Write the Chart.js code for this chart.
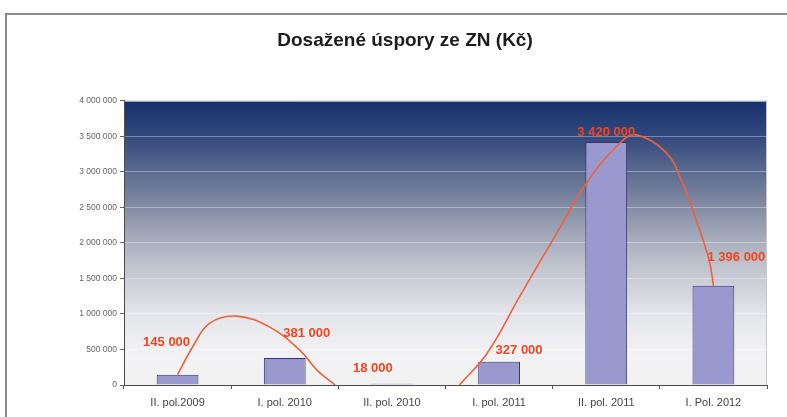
<!DOCTYPE html>
<html>
<head>
<meta charset="utf-8">
<script src="https://cdn.jsdelivr.net/npm/chart.js@4/dist/chart.umd.min.js"></script>
<style>
  html, body { margin: 0; padding: 0; background: #ffffff; }
  #wrap { position: relative; width: 787px; height: 417px; overflow: hidden; }
  #frame { position: absolute; left: 5px; top: 13px; width: 800px; height: 420px;
           border-left: 2px solid #8a8a8a; border-top: 2px solid #8a8a8a; pointer-events: none; }
  canvas { position: absolute; left: 0; top: 0; }
</style>
</head>
<body>
<div id="wrap">
  <canvas id="c" width="787" height="417"></canvas>
  <div id="frame"></div>
</div>
<script>
// ---- data ----
const categories = ['II. pol.2009', 'I. pol. 2010', 'II. pol. 2010', 'I. pol. 2011', 'II. pol. 2011', 'I. Pol. 2012'];
const savings = [145000, 381000, 18000, 327000, 3420000, 1396000];
const valueLabels = ['145 000', '381 000', '18 000', '327 000', '3 420 000', '1 396 000'];
const yTicks = [0, 500000, 1000000, 1500000, 2000000, 2500000, 3000000, 3500000, 4000000];
// red free-hand curve (x in category index units)
const curveX = [0, 0.14, 0.30, 0.55, 0.86, 1.14, 1.30, 1.47, 2.0, 2.63, 2.89, 3.19, 3.50, 3.82, 4.13, 4.28, 4.56, 4.71, 4.84, 4.96, 5.0];
const curveY = [145000, 535000, 870000, 970000, 815000, 490000, 210000, 0, null, 0, 450000, 1240000, 2040000, 2850000, 3410000, 3520000, 3270000, 2850000, 2320000, 1760000, 1396000];

function fmt(v) { return String(v).replace(/\B(?=(\d{3})+(?!\d))/g, ' '); }

const curvePoints = curveX.map((x, i) => ({ x: x, y: curveY[i] }));

const bgPlugin = {
  id: 'bg',
  beforeDraw(chart) {
    const { ctx, chartArea: a } = chart;
    const g = ctx.createLinearGradient(0, a.top, 0, a.bottom);
    g.addColorStop(0, '#15306b');
    g.addColorStop(0.12, '#31487c');
    g.addColorStop(0.35, '#7c869f');
    g.addColorStop(0.55, '#b9bdc8');
    g.addColorStop(0.75, '#e4e5ea');
    g.addColorStop(0.9, '#f3f3f5');
    g.addColorStop(1, '#f1f1f1');
    ctx.save();
    ctx.fillStyle = g;
    ctx.fillRect(a.left, a.top, a.right - a.left, a.bottom - a.top);
    ctx.strokeStyle = '#c8c8cc';
    ctx.lineWidth = 1;
    ctx.beginPath();
    ctx.moveTo(a.left, a.top + 0.5);
    ctx.lineTo(a.right - 0.5, a.top + 0.5);
    ctx.lineTo(a.right - 0.5, a.bottom);
    ctx.stroke();
    ctx.restore();
  }
};

const labelDx = [-11, 22, -19, 20, 0, 23];
const labelDy = [-32, -25, -15, -11, -10, -28];
const labelPlugin = {
  id: 'vlabels',
  afterDatasetsDraw(chart) {
    const { ctx, scales } = chart;
    ctx.save();
    ctx.font = 'bold 13px "Liberation Sans", Arial, sans-serif';
    ctx.fillStyle = '#f2451f';
    ctx.textAlign = 'center';
    ctx.textBaseline = 'middle';
    savings.forEach((v, i) => {
      const x = scales.x.getPixelForValue(i) + labelDx[i];
      const y = scales.y.getPixelForValue(v) + labelDy[i];
      ctx.fillText(valueLabels[i], x, y);
    });
    ctx.restore();
  }
};

new Chart(document.getElementById('c'), {
  data: {
    labels: categories,
    datasets: [
      {
        type: 'line',
        data: curvePoints,
        xAxisID: 'x2',
        borderColor: '#f0603c',
        borderWidth: 1.6,
        pointRadius: 0,
        tension: 0.4,
        spanGaps: false,
        clip: 0,
        order: 0
      },
      {
        type: 'bar',
        data: savings,
        xAxisID: 'x',
        backgroundColor: '#9999cf',
        borderColor: '#34346a',
        borderWidth: 1,
        grouped: false,
        barPercentage: 0.39,
        categoryPercentage: 1,
        order: 1
      }
    ]
  },
  options: {
    responsive: false,
    animation: false,
    devicePixelRatio: 1,
    layout: { padding: { top: 0, right: 20, bottom: 0, left: 43 } },
    plugins: {
      legend: { display: false },
      tooltip: { enabled: false },
      title: {
        display: true,
        text: 'Dosažené úspory ze ZN (Kč)',
        color: '#1c1c1c',
        font: { family: '"Liberation Sans", Arial, sans-serif', size: 19, weight: 'bold' },
        padding: { top: 29, bottom: 49 }
      }
    },
    scales: {
      x: {
        type: 'category',
        offset: true,
        grid: { display: true, drawOnChartArea: false, tickLength: 4, tickColor: '#555', offset: true },
        border: { display: true, color: '#4a4a4a', width: 1 },
        ticks: { color: '#444', font: { family: '"Liberation Sans", Arial, sans-serif', size: 11 }, padding: 7, maxRotation: 0, autoSkip: false },
        afterFit(s) { s.height = 32; }
      },
      x2: {
        type: 'linear',
        display: false,
        min: -0.5,
        max: 5.5
      },
      y: {
        min: 0,
        max: 4000000,
        afterBuildTicks(s) { s.ticks = yTicks.map(v => ({ value: v })); },
        grid: { color: 'rgba(255,255,255,0.35)', tickLength: 4, tickColor: '#666', lineWidth: 1 },
        border: { display: true, color: '#4a4a4a', width: 1 },
        ticks: { color: '#666', font: { family: '"Liberation Sans", Arial, sans-serif', size: 8.5 }, padding: 3, callback: (v) => fmt(v) },
        afterFit(s) { s.width = 81; }
      }
    }
  },
  plugins: [bgPlugin, labelPlugin]
});
</script>
</body>
</html>
